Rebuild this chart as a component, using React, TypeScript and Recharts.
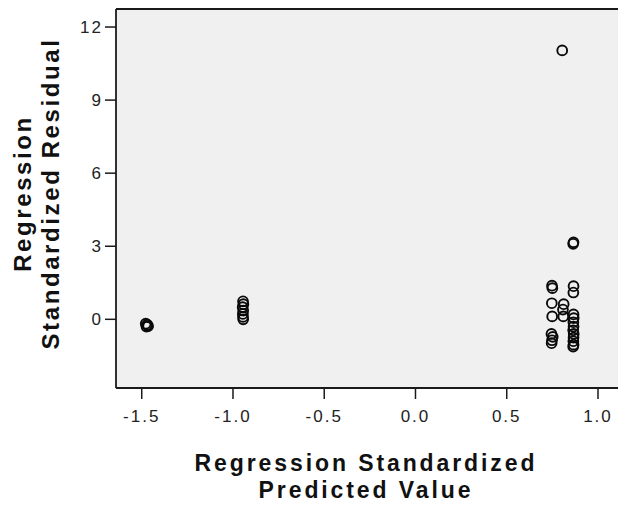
import React from "react";
import {
  ScatterChart,
  Scatter,
  XAxis,
  YAxis,
  CartesianGrid,
  ReferenceLine,
} from "recharts";

// Regression standardized predicted values (x) and standardized residuals (y)
const predictedValues = [
  -1.478, -1.470, -1.465, -1.474,
  -0.945, -0.943, -0.947, -0.944, -0.946, -0.945, -0.944,
  0.748, 0.750, 0.747, 0.749, 0.745, 0.752, 0.748, 0.746,
  0.804, 0.812, 0.810, 0.808,
  0.864, 0.866, 0.866, 0.865, 0.866, 0.867, 0.865, 0.866, 0.864, 0.867, 0.866, 0.865, 0.866, 0.864,
];
const residualValues = [
  -0.18, -0.22, -0.28, -0.30,
  0.74, 0.62, 0.50, 0.36, 0.22, 0.10, 0.0,
  1.38, 1.28, 0.66, 0.12, -0.60, -0.72, -0.86, -0.98,
  11.04, 0.62, 0.12, 0.40,
  3.10, 3.16, 1.36, 1.10, 0.20, 0.05, -0.12, -0.30, -0.45, -0.60, -0.75, -0.90, -1.04, -1.12,
];

const xTicks = [-1.5, -1.0, -0.5, 0.0, 0.5, 1.0];
const yTicks = [0, 3, 6, 9, 12];
const xDomain = [-1.641, 1.148];
const yDomain = [-2.82, 12.74];

const xTitle = ["Regression Standardized", "Predicted Value"];
const yTitle = ["Regression", "Standardized Residual"];

const data = predictedValues.map((x, i) => ({ x, y: residualValues[i] }));

const titleFont = "Arial, 'Liberation Sans', sans-serif";

const RingShape = (props: any) => {
  const { cx, cy } = props;
  if (cx == null || cy == null) return null;
  return (
    <circle cx={cx} cy={cy} r={4.9} fill="none" stroke="#0a0a0a" strokeWidth={1.9} />
  );
};

const XTitle = (props: any) => {
  const vb = props.viewBox || {};
  const cx = vb.x + 250;
  const base = vb.y;
  return (
    <g>
      <text
        x={cx}
        y={base + 83}
        textAnchor="middle"
        fontFamily={titleFont}
        fontWeight="bold"
        fontSize={23}
        letterSpacing={2.9}
        fill="#111"
      >
        {xTitle[0]}
      </text>
      <text
        x={cx}
        y={base + 110}
        textAnchor="middle"
        fontFamily={titleFont}
        fontWeight="bold"
        fontSize={23}
        letterSpacing={2.9}
        fill="#111"
      >
        {xTitle[1]}
      </text>
    </g>
  );
};

const YTitle = (props: any) => {
  const vb = props.viewBox || {};
  const cy = vb.y + vb.height / 2 - 5;
  const x1 = vb.x + 31;
  const x2 = vb.x + 59;
  return (
    <g>
      <text
        x={x1}
        y={cy}
        transform={`rotate(-90, ${x1}, ${cy})`}
        textAnchor="middle"
        fontFamily={titleFont}
        fontWeight="bold"
        fontSize={24}
        letterSpacing={2.6}
        fill="#111"
      >
        {yTitle[0]}
      </text>
      <text
        x={x2}
        y={cy}
        transform={`rotate(-90, ${x2}, ${cy})`}
        textAnchor="middle"
        fontFamily={titleFont}
        fontWeight="bold"
        fontSize={24}
        letterSpacing={2.6}
        fill="#111"
      >
        {yTitle[1]}
      </text>
    </g>
  );
};

const tickStyle = {
  fontFamily: "Arial, 'Liberation Sans', sans-serif",
  fontSize: 17,
  fill: "#222",
  letterSpacing: 2,
};

export default function App() {
  return (
    <div
      style={{
        position: "absolute",
        left: 0,
        top: 0,
        width: 618,
        height: 509,
        overflow: "hidden",
        background: "#fff",
      }}
    >
      <ScatterChart
        width={640}
        height={509}
        margin={{ top: 9, right: 15, bottom: 0, left: 0 }}
      >
        <CartesianGrid
          fill="#f0f0f0"
          horizontal={false}
          vertical={false}
          stroke="none"
        />
        <XAxis
          type="number"
          dataKey="x"
          domain={xDomain}
          ticks={xTicks}
          allowDataOverflow
          height={121}
          tickSize={11}
          tickMargin={11}
          tickFormatter={(v: number) => v.toFixed(1)}
          tick={tickStyle}
          axisLine={{ stroke: "#1a1a1a", strokeWidth: 1.8 }}
          tickLine={{ stroke: "#1a1a1a", strokeWidth: 1.5 }}
          label={<XTitle />}
        />
        <YAxis
          type="number"
          dataKey="y"
          domain={yDomain}
          ticks={yTicks}
          allowDataOverflow
          width={116}
          tickSize={11}
          tickMargin={2}
          tick={tickStyle}
          axisLine={{ stroke: "#1a1a1a", strokeWidth: 1.8 }}
          tickLine={{ stroke: "#1a1a1a", strokeWidth: 1.5 }}
          label={<YTitle />}
        />
        <ReferenceLine y={yDomain[1]} stroke="#1a1a1a" strokeWidth={1.8} />
        <Scatter data={data} shape={RingShape} isAnimationActive={false} />
      </ScatterChart>
    </div>
  );
}
